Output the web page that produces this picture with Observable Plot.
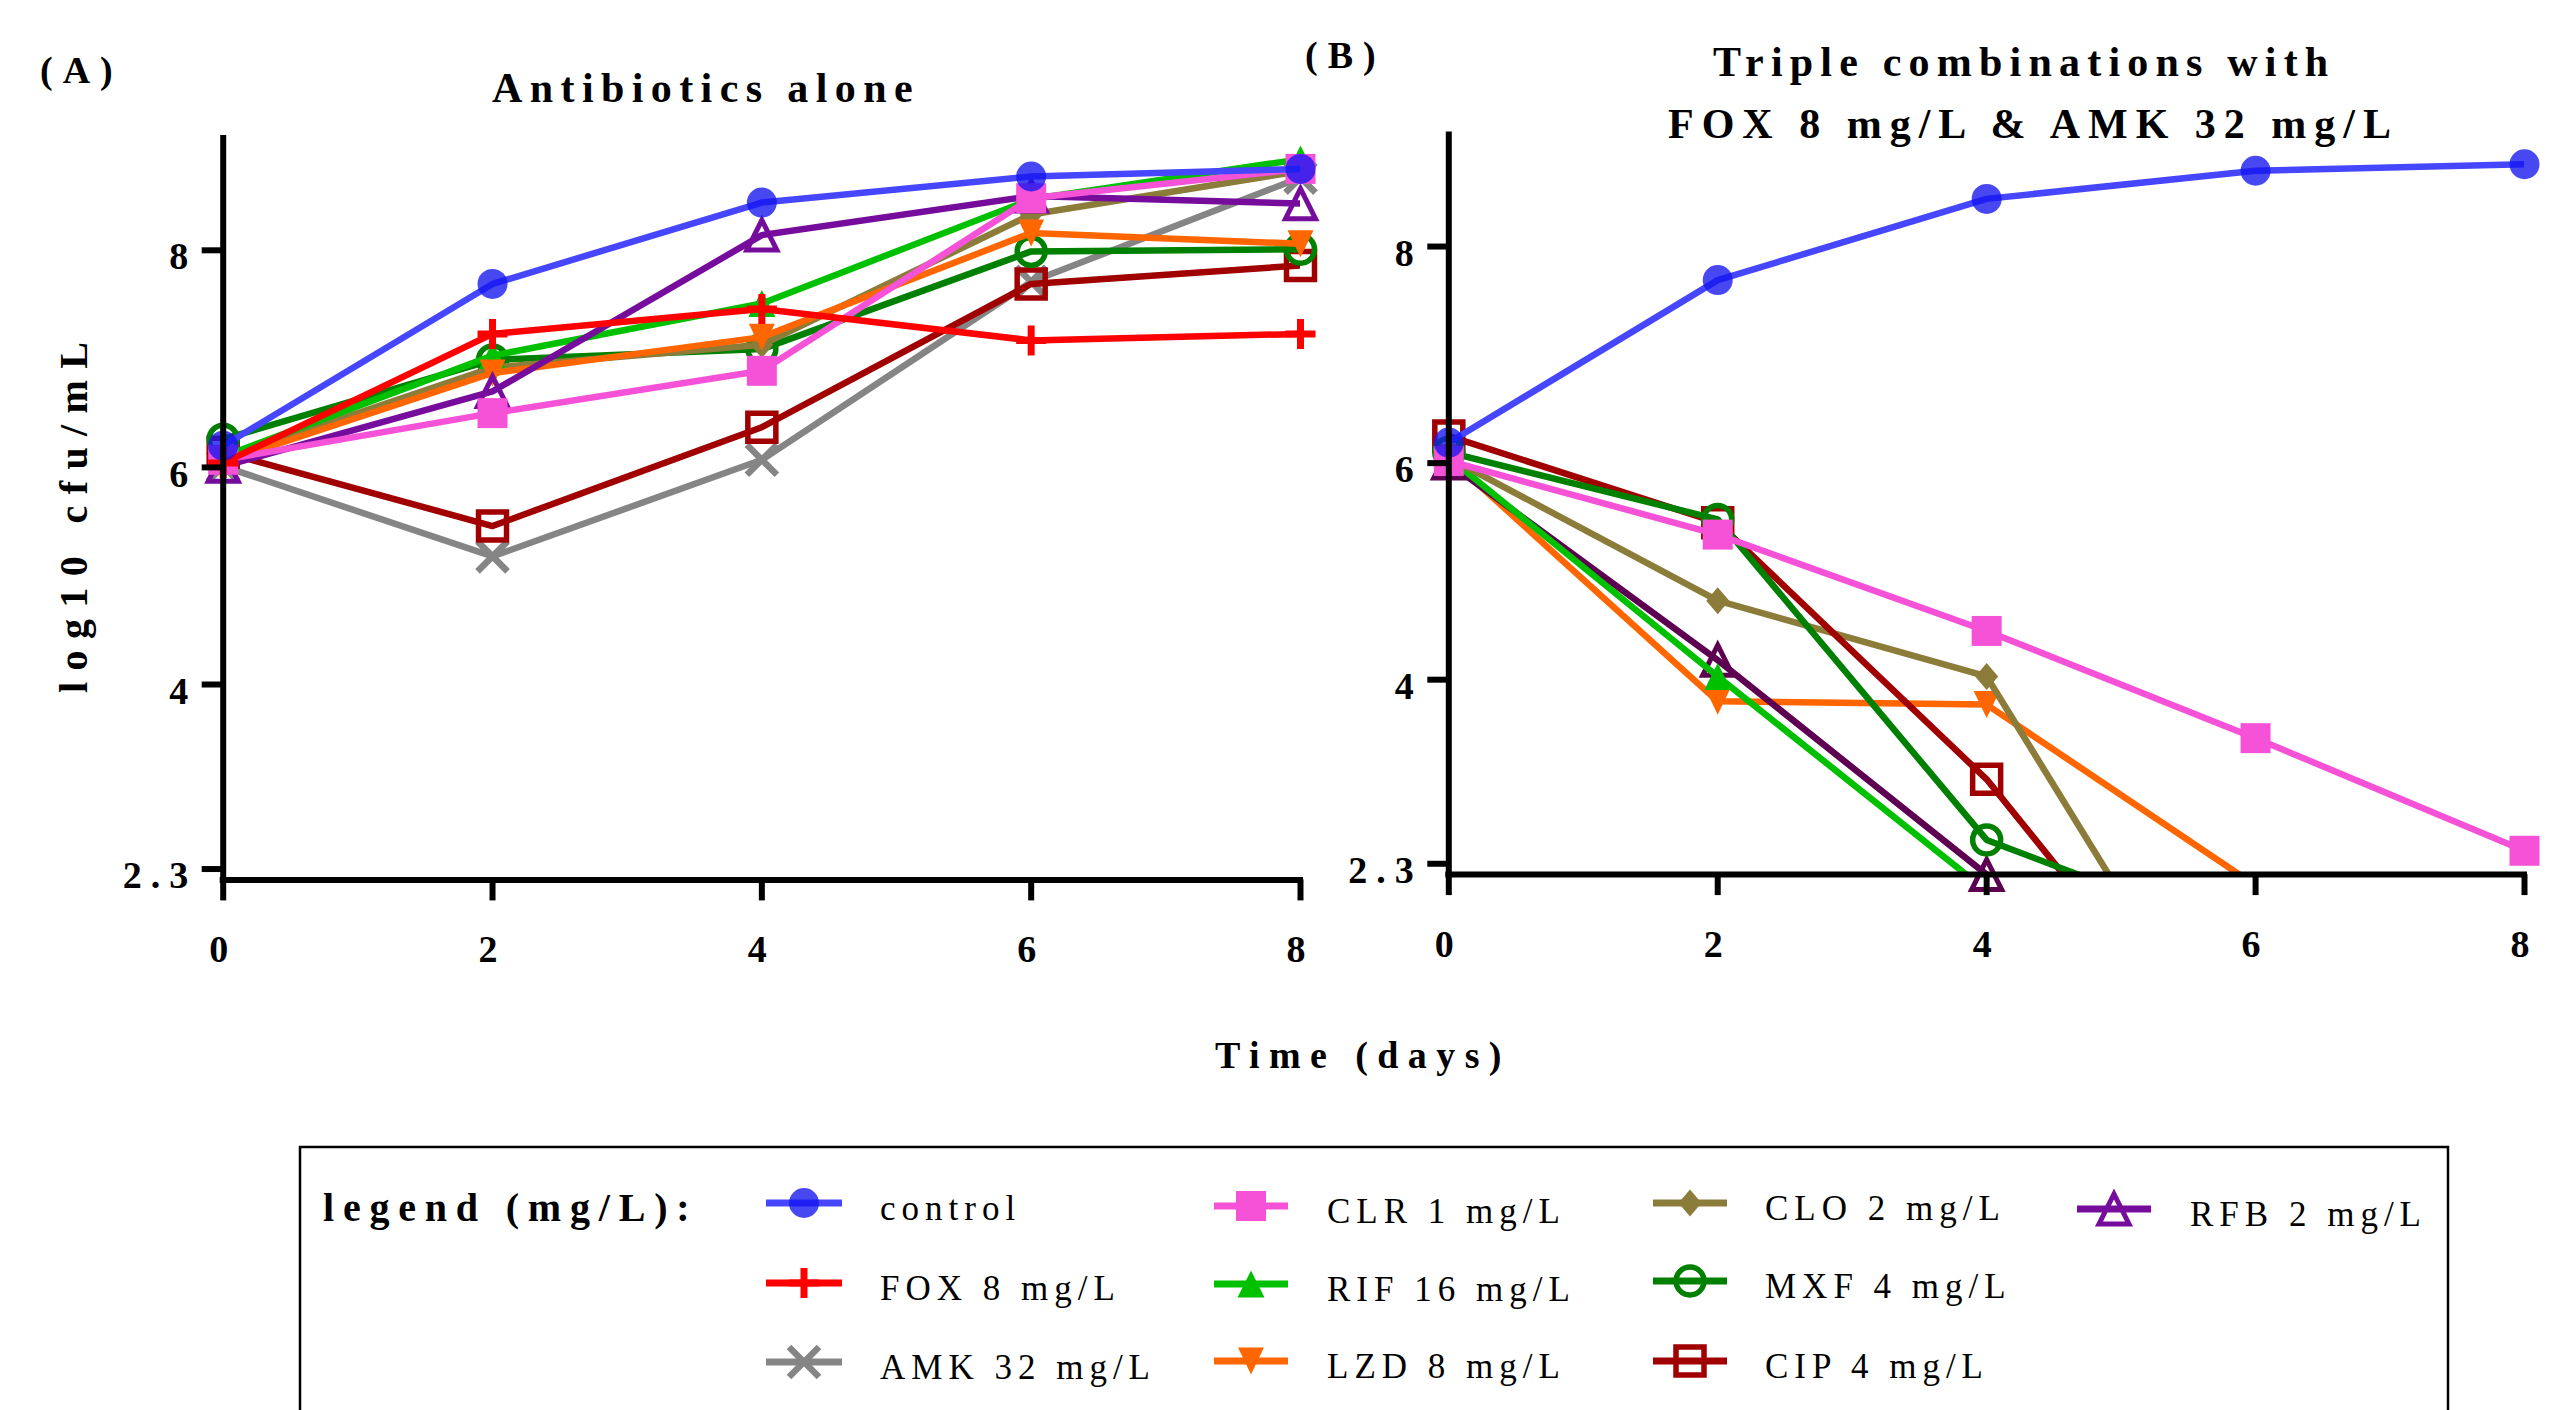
<!DOCTYPE html>
<html><head><meta charset="utf-8">
<script src="https://cdn.jsdelivr.net/npm/d3@7"></script>
<script src="https://cdn.jsdelivr.net/npm/@observablehq/plot@0.6"></script>
<style>
html,body{margin:0;padding:0;background:#fff;}
#root{position:relative;width:2574px;height:1410px;overflow:hidden;background:#fff;font-family:"Liberation Serif","Times New Roman",serif;}
#root > svg{position:absolute;}
#root g[aria-label$="tick label"] text{letter-spacing:9px;}
</style></head><body><div id="root"></div>
<script>
// ---------------- data ----------------
const days = [0, 2, 4, 6, 8];
const xTicks = [0, 2, 4, 6, 8];
const yTicks = [2.3, 4, 6, 8];
const yDomain = [2.2, 9.03];

// Panel A: antibiotics alone (log10 cfu/mL at day 0,2,4,6,8)
const aControl = [6.20, 7.69, 8.44, 8.68, 8.75];
const aFOX     = [6.04, 7.23, 7.46, 7.17, 7.23];
const aAMK     = [6.01, 5.18, 6.07, 7.71, 8.67];
const aCLR     = [6.07, 6.50, 6.89, 8.48, 8.75];
const aRIF     = [6.10, 7.03, 7.51, 8.47, 8.84];
const aLZD     = [6.05, 6.87, 7.20, 8.16, 8.06];
const aCLO     = [6.08, 6.92, 7.13, 8.33, 8.73];
const aMXF     = [6.26, 6.99, 7.09, 7.99, 8.01];
const aCIP     = [6.14, 5.46, 6.37, 7.69, 7.86];
const aRFB     = [6.01, 6.70, 8.14, 8.50, 8.43];

// Panel B: triple combinations with FOX 8 mg/L & AMK 32 mg/L
const bControl = [6.19, 7.69, 8.44, 8.70, 8.76];
const bCLR     = [6.02, 5.34, 4.45, 3.46, 2.42];
const bCLO     = [6.05, 4.73, 4.03, 0, 0];
const bRFB     = [6.00, 4.18, 2.20, 0, 0];
const bRIF     = [6.05, 4.03, 2.05, 0, 0];
const bMXF     = [6.10, 5.48, 2.52, 1.58, 0];
const bLZD     = [6.05, 3.80, 3.77, 2.10, 0];
const bCIP     = [6.25, 5.45, 3.08, 0, 0];

const legendKeys   = ["control", "FOX", "AMK", "CLR", "RIF", "LZD", "CLO", "MXF", "CIP", "RFB"];
const legendLabels = ["control", "FOX 8 mg/L", "AMK 32 mg/L", "CLR 1 mg/L", "RIF 16 mg/L", "LZD 8 mg/L", "CLO 2 mg/L", "MXF 4 mg/L", "CIP 4 mg/L", "RFB 2 mg/L"];

// ---------------- symbols ----------------
const shape = f => ({draw(ctx){ f(ctx); }});
const circ = R => shape(c => { c.moveTo(R, 0); c.arc(0, 0, R, 0, 2 * Math.PI); c.closePath(); });
const sq = h => shape(c => { c.moveTo(-h, -h); c.lineTo(h, -h); c.lineTo(h, h); c.lineTo(-h, h); c.closePath(); });
const triUp = (a, b) => shape(c => { c.moveTo(0, -b); c.lineTo(a, b); c.lineTo(-a, b); c.closePath(); });
const triDown = (a, b) => shape(c => { c.moveTo(0, b); c.lineTo(a, -b); c.lineTo(-a, -b); c.closePath(); });
const diam = (a, b) => shape(c => { c.moveTo(0, -b); c.lineTo(a, 0); c.lineTo(0, b); c.lineTo(-a, 0); c.closePath(); });
const plus = h => shape(c => { c.moveTo(-h, 0); c.lineTo(h, 0); c.moveTo(0, -h); c.lineTo(0, h); });
const times = h => shape(c => { c.moveTo(-h, -h); c.lineTo(h, h); c.moveTo(-h, h); c.lineTo(h, -h); });

const STYLE = {
  control: {color: "#4646ff", symbol: circ(15), fill: "#1414f0", fo: 0.78, stroke: "none", sw: 0},
  FOX:     {color: "#ff0000", symbol: plus(15), fill: "none", stroke: "#ff0000", sw: 7},
  AMK:     {color: "#858585", symbol: times(15), fill: "none", stroke: "#858585", sw: 6.5},
  CLR:     {color: "#f552d8", symbol: sq(15), fill: "#f552d8", stroke: "none", sw: 0},
  RIF:     {color: "#00c000", symbol: triUp(13.5, 13.5), fill: "#00c000", stroke: "none", sw: 0},
  LZD:     {color: "#ff6600", symbol: triDown(13, 13.5), fill: "#ff6600", stroke: "none", sw: 0},
  CLO:     {color: "#8c7c3a", symbol: diam(11.5, 13.5), fill: "#8c7c3a", stroke: "none", sw: 0},
  MXF:     {color: "#008000", symbol: circ(14), fill: "none", stroke: "#008000", sw: 5.5},
  CIP:     {color: "#a00000", symbol: sq(14), fill: "none", stroke: "#a00000", sw: 5.5},
  RFB:     {color: "#760c9c", symbol: triUp(15, 15), fill: "none", stroke: "#760c9c", sw: 5},
  RFBb:    {color: "#5e0052", symbol: triUp(15, 15), fill: "none", stroke: "#5e0052", sw: 5}
};

function panel(series, m, width, height) {
  const marks = [];
  for (const [key, values] of series) {
    const st = STYLE[key];
    const rows = days.map((t, i) => ({t, v: values[i]}));
    marks.push(Plot.line(rows, {x: "t", y: "v", stroke: st.color, strokeWidth: 6.5, clip: true, strokeLinejoin: "round", strokeLinecap: "round"}));
    marks.push(Plot.dot(rows, {x: "t", y: "v", filter: d => d.v >= yDomain[0], symbol: st.symbol, r: 10,
      fill: st.fill, fillOpacity: st.fo ?? 1, stroke: st.stroke, strokeWidth: st.sw}));
  }
  marks.push(Plot.ruleX([0], {stroke: "black", strokeWidth: 6, strokeLinecap: "square"}));
  marks.push(Plot.ruleY([yDomain[0]], {stroke: "black", strokeWidth: 6, strokeLinecap: "square"}));
  marks.push(Plot.axisY({ticks: yTicks, tickSize: 21, tickFormat: () => "", stroke: "black", strokeWidth: 6, label: null}));
  marks.push(Plot.axisY({ticks: yTicks, tickSize: 0, tickPadding: 26, dy: 7, fontSize: 38, fontWeight: "bold", tickFormat: d => String(d), label: null}));
  marks.push(Plot.axisX({ticks: xTicks, tickSize: 21, tickPadding: 34, fontSize: 38, fontWeight: "bold", stroke: "black", strokeWidth: 6, tickFormat: d => String(d), label: null}));
  return Plot.plot({
    width, height,
    marginLeft: m.left, marginRight: m.right, marginTop: m.top, marginBottom: m.bottom,
    x: {domain: [0, 8], label: null},
    y: {domain: yDomain, label: null},
    style: {background: "transparent", overflow: "visible", fontFamily: "Liberation Serif, serif", color: "black", maxWidth: "none"},
    marks
  });
}

const root = document.getElementById("root");

const plotA = panel([
  ["AMK", aAMK], ["CIP", aCIP], ["MXF", aMXF], ["CLO", aCLO], ["RIF", aRIF], ["LZD", aLZD],
  ["RFB", aRFB], ["CLR", aCLR], ["FOX", aFOX], ["control", aControl]
], {left: 222.7, right: 40, top: 138, bottom: 120.6}, 1340, 1000);
plotA.style.left = "0px"; plotA.style.top = "0px";
root.appendChild(plotA);

const plotB = panel([
  ["LZD", bLZD], ["RFBb", bRFB], ["RIF", bRIF], ["CLO", bCLO], ["CIP", bCIP], ["MXF", bMXF],
  ["CLR", bCLR], ["control", bControl]
], {left: 108.3, right: 50, top: 134.5, bottom: 125.9}, 1234, 1000);
plotB.style.left = "1340px"; plotB.style.top = "0px";
root.appendChild(plotB);

// ---------------- overlay: titles, axis titles, legend ----------------
const svg = d3.select(root).append("svg")
  .attr("width", 2574).attr("height", 1410)
  .style("left", "0px").style("top", "0px")
  .attr("font-family", "Liberation Serif, Times New Roman, serif");

function txt(s, x, y, size, weight, ls, transform) {
  const t = svg.append("text").text(s).attr("font-size", size).attr("font-weight", weight)
    .attr("letter-spacing", ls).attr("fill", "black");
  if (transform) t.attr("transform", transform); else t.attr("x", x).attr("y", y);
  return t;
}
txt("(A)", 40, 83, 38, "bold", 10);
txt("(B)", 1305, 68, 38, "bold", 10);
txt("Antibiotics alone", 492, 102, 42, "bold", 7.4);
txt("Triple combinations with", 1713, 76, 42, "bold", 7.2);
txt("FOX 8 mg/L & AMK 32 mg/L", 1668, 138, 42, "bold", 8);
txt("log10 cfu/mL", 0, 0, 40, "bold", 11.4, "translate(87,693) rotate(-90)");
txt("Time (days)", 1215, 1068, 38, "bold", 9.4);

// legend box
svg.append("rect").attr("x", 300).attr("y", 1147).attr("width", 2148).attr("height", 400)
  .attr("fill", "none").attr("stroke", "black").attr("stroke-width", 2.5);
txt("legend (mg/L):", 323, 1221, 40, "bold", 8.8);

const cols = [{l1: 766, l2: 842, tx: 880}, {l1: 1214, l2: 1288, tx: 1327}, {l1: 1653, l2: 1727, tx: 1765}, {l1: 2077, l2: 2151, tx: 2190}];
const place = [[0, 1203], [0, 1283], [0, 1362], [1, 1206], [1, 1284], [1, 1361], [2, 1203], [2, 1281], [2, 1361], [3, 1209]];
legendKeys.forEach((k, i) => {
  const st = STYLE[k];
  const [ci, my] = place[i];
  const c = cols[ci];
  svg.append("line").attr("x1", c.l1).attr("x2", c.l2).attr("y1", my).attr("y2", my)
    .attr("stroke", st.color).attr("stroke-width", 7);
  const p = d3.path(); st.symbol.draw(p, 0);
  svg.append("path").attr("d", p.toString())
    .attr("transform", `translate(${(c.l1 + c.l2) / 2},${my})`)
    .attr("fill", st.fill).attr("fill-opacity", st.fo ?? 1)
    .attr("stroke", st.stroke).attr("stroke-width", st.sw);
  txt(legendLabels[i], c.tx, my + 17, 35, "normal", 6);
});
</script></body></html>
